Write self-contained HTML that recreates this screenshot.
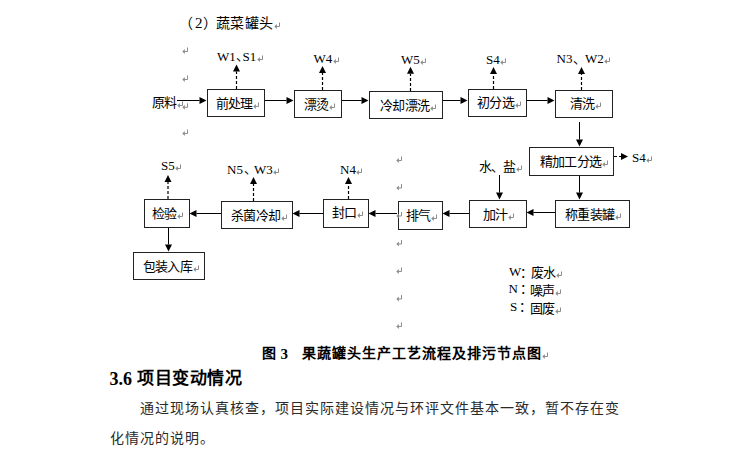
<!DOCTYPE html>
<html lang="zh-CN"><head><meta charset="utf-8"><style>
html,body{margin:0;padding:0;background:#fff;}
#pg{position:relative;width:741px;height:463px;overflow:hidden;background:#fff;font-family:"Liberation Serif",serif;color:#000;}
.b{position:absolute;box-sizing:border-box;border:1px solid #222;background:#fff;}
.t{position:absolute;white-space:nowrap;line-height:1;}
.cj{font-family:"Liberation Sans",sans-serif;font-size:13px;letter-spacing:-0.6px;}
.cjh{font-family:"Liberation Sans",sans-serif;font-size:14px;letter-spacing:0.5px;}
.lt{font-family:"Liberation Serif",serif;font-size:13px;}
.h2{font-family:"Liberation Serif",serif;font-size:15px;}
.cap{font-family:"Liberation Serif",serif;font-size:15px;font-weight:bold;}
.capc{font-family:"Liberation Serif",serif;font-size:14px;font-weight:bold;letter-spacing:1px;}
.hd{font-family:"Liberation Serif",serif;font-size:18px;font-weight:bold;}
.hdc{font-family:"Liberation Serif",serif;font-size:17px;font-weight:bold;letter-spacing:0.5px;}
.bd{font-family:"Liberation Serif",serif;font-size:14px;letter-spacing:1px;color:#2a2a2a;}
.bd1{font-family:"Liberation Serif",serif;font-size:14px;letter-spacing:1px;color:#2a2a2a;}
.pm{display:inline-block;vertical-align:-1px;margin-left:0.5px;}
svg.ov{position:absolute;left:0;top:0;}
</style></head><body><div id="pg">
<div class="b" style="left:207px;top:89px;width:58px;height:28px"></div>
<div class="b" style="left:294px;top:90px;width:48px;height:28px"></div>
<div class="b" style="left:369px;top:91px;width:74px;height:28px"></div>
<div class="b" style="left:468px;top:89px;width:59px;height:28px"></div>
<div class="b" style="left:555px;top:90px;width:58px;height:28px"></div>
<div class="b" style="left:529px;top:147px;width:85px;height:29px"></div>
<div class="b" style="left:555px;top:200px;width:75px;height:28px"></div>
<div class="b" style="left:469px;top:200px;width:58px;height:28px"></div>
<div class="b" style="left:398px;top:201px;width:45px;height:29px"></div>
<div class="b" style="left:323px;top:199px;width:46px;height:29px"></div>
<div class="b" style="left:221px;top:201px;width:72px;height:28px"></div>
<div class="b" style="left:144px;top:199px;width:46px;height:29px"></div>
<div class="b" style="left:133px;top:252px;width:72px;height:28px"></div>
<svg class="ov" width="741" height="463" viewBox="0 0 741 463"><line x1="177" y1="100.5" x2="199.50" y2="100.50" stroke="#000" stroke-width="1"/><polygon points="206.5,100.5 199.50,104.00 199.50,97.00" fill="#000"/><line x1="265" y1="100.5" x2="286.50" y2="100.50" stroke="#000" stroke-width="1"/><polygon points="293.5,100.5 286.50,104.00 286.50,97.00" fill="#000"/><line x1="342" y1="100.5" x2="361.50" y2="100.50" stroke="#000" stroke-width="1"/><polygon points="368.5,100.5 361.50,104.00 361.50,97.00" fill="#000"/><line x1="443" y1="100.5" x2="460.50" y2="100.50" stroke="#000" stroke-width="1"/><polygon points="467.5,100.5 460.50,104.00 460.50,97.00" fill="#000"/><line x1="527" y1="100.5" x2="547.50" y2="100.50" stroke="#000" stroke-width="1"/><polygon points="554.5,100.5 547.50,104.00 547.50,97.00" fill="#000"/><line x1="579.5" y1="122" x2="579.50" y2="139.50" stroke="#000" stroke-width="1"/><polygon points="579.5,146.5 576.00,139.50 583.00,139.50" fill="#000"/><line x1="579.5" y1="176" x2="579.50" y2="192.50" stroke="#000" stroke-width="1"/><polygon points="579.5,199.5 576.00,192.50 583.00,192.50" fill="#000"/><line x1="555" y1="212.5" x2="533.50" y2="212.50" stroke="#000" stroke-width="1"/><polygon points="526.5,212.5 533.50,209.00 533.50,216.00" fill="#000"/><line x1="499.5" y1="175" x2="499.50" y2="192.50" stroke="#000" stroke-width="1"/><polygon points="499.5,199.5 496.00,192.50 503.00,192.50" fill="#000"/><line x1="469" y1="213.5" x2="449.50" y2="213.50" stroke="#000" stroke-width="1"/><polygon points="442.5,213.5 449.50,210.00 449.50,217.00" fill="#000"/><line x1="397" y1="213.5" x2="375.50" y2="213.50" stroke="#000" stroke-width="1"/><polygon points="368.5,213.5 375.50,210.00 375.50,217.00" fill="#000"/><line x1="323" y1="213.5" x2="299.50" y2="213.50" stroke="#000" stroke-width="1"/><polygon points="292.5,213.5 299.50,210.00 299.50,217.00" fill="#000"/><line x1="221" y1="213.5" x2="196.50" y2="213.50" stroke="#000" stroke-width="1"/><polygon points="189.5,213.5 196.50,210.00 196.50,217.00" fill="#000"/><line x1="168.5" y1="228" x2="168.50" y2="244.50" stroke="#000" stroke-width="1"/><polygon points="168.5,251.5 165.00,244.50 172.00,244.50" fill="#000"/><line x1="236.5" y1="89" x2="236.50" y2="71.50" stroke="#000" stroke-width="1.2" stroke-dasharray="3,2"/><polygon points="236.5,64.5 240.00,71.50 233.00,71.50" fill="#000"/><line x1="322.5" y1="90" x2="322.50" y2="73.00" stroke="#000" stroke-width="1.2" stroke-dasharray="3,2"/><polygon points="322.5,66 326.00,73.00 319.00,73.00" fill="#000"/><line x1="410.5" y1="91" x2="410.50" y2="73.80" stroke="#000" stroke-width="1.2" stroke-dasharray="3,2"/><polygon points="410.5,66.8 414.00,73.80 407.00,73.80" fill="#000"/><line x1="493.5" y1="89" x2="493.50" y2="74.00" stroke="#000" stroke-width="1.2" stroke-dasharray="3,2"/><polygon points="493.5,67 497.00,74.00 490.00,74.00" fill="#000"/><line x1="581.5" y1="90" x2="581.50" y2="74.00" stroke="#000" stroke-width="1.2" stroke-dasharray="3,2"/><polygon points="581.5,67 585.00,74.00 578.00,74.00" fill="#000"/><line x1="614" y1="156.5" x2="621.00" y2="156.50" stroke="#000" stroke-width="1.2" stroke-dasharray="3,2"/><polygon points="628,156.5 621.00,160.00 621.00,153.00" fill="#000"/><line x1="253.5" y1="201" x2="253.50" y2="184.00" stroke="#000" stroke-width="1.2" stroke-dasharray="3,2"/><polygon points="253.5,177 257.00,184.00 250.00,184.00" fill="#000"/><line x1="348.5" y1="199" x2="348.50" y2="184.00" stroke="#000" stroke-width="1.2" stroke-dasharray="3,2"/><polygon points="348.5,177 352.00,184.00 345.00,184.00" fill="#000"/><line x1="168" y1="199" x2="168.00" y2="182.00" stroke="#000" stroke-width="1.2" stroke-dasharray="3,2"/><polygon points="168,175 171.50,182.00 164.50,182.00" fill="#000"/><path d="M187.5 47.5 V51.5 H184" fill="none" stroke="#8c8c8c" stroke-width="1"/><path d="M182.3 51.5L184.8 49.0V54.0Z" fill="#8c8c8c"/><path d="M187.5 75.5 V79.5 H184" fill="none" stroke="#8c8c8c" stroke-width="1"/><path d="M182.3 79.5L184.8 77.0V82.0Z" fill="#8c8c8c"/><path d="M187.5 103.3 V107.3 H184" fill="none" stroke="#8c8c8c" stroke-width="1"/><path d="M182.3 107.3L184.8 104.8V109.8Z" fill="#8c8c8c"/><path d="M187.5 129.5 V133.5 H184" fill="none" stroke="#8c8c8c" stroke-width="1"/><path d="M182.3 133.5L184.8 131.0V136.0Z" fill="#8c8c8c"/><path d="M401.5 156.5 V160.5 H398" fill="none" stroke="#8c8c8c" stroke-width="1"/><path d="M396.3 160.5L398.8 158.0V163.0Z" fill="#8c8c8c"/><path d="M401.5 184 V188 H398" fill="none" stroke="#8c8c8c" stroke-width="1"/><path d="M396.3 188L398.8 185.5V190.5Z" fill="#8c8c8c"/><path d="M401.5 212 V216 H398" fill="none" stroke="#8c8c8c" stroke-width="1"/><path d="M396.3 216L398.8 213.5V218.5Z" fill="#8c8c8c"/><path d="M401.5 240 V244 H398" fill="none" stroke="#8c8c8c" stroke-width="1"/><path d="M396.3 244L398.8 241.5V246.5Z" fill="#8c8c8c"/><path d="M401.5 267.5 V271.5 H398" fill="none" stroke="#8c8c8c" stroke-width="1"/><path d="M396.3 271.5L398.8 269.0V274.0Z" fill="#8c8c8c"/><path d="M401.5 295 V299 H398" fill="none" stroke="#8c8c8c" stroke-width="1"/><path d="M396.3 299L398.8 296.5V301.5Z" fill="#8c8c8c"/><path d="M401.5 322.5 V326.5 H398" fill="none" stroke="#8c8c8c" stroke-width="1"/><path d="M396.3 326.5L398.8 324.0V329.0Z" fill="#8c8c8c"/></svg>
<div class="t cjh" id="t0" style="left:179.00px;top:15.75px">（</div>
<div class="t h2" id="t1" style="left:195.00px;top:16.00px">2</div>
<div class="t cjh" id="t2" style="left:203.00px;top:15.75px">）</div>
<div class="t cjh" id="t3" style="left:215.50px;top:15.75px">蔬菜罐头<svg class="pm" width="7" height="7" viewBox="0 0 7 7"><path d="M5.5 0.5V4.5H2" fill="none" stroke="#8c8c8c" stroke-width="1"/><path d="M0.3 4.5L2.8 2V7Z" fill="#8c8c8c"/></svg></div>
<div class="t cj" id="t4" style="left:151.50px;top:96.25px">原料<svg class="pm" width="7" height="7" viewBox="0 0 7 7"><path d="M5.5 0.5V4.5H2" fill="none" stroke="#8c8c8c" stroke-width="1"/><path d="M0.3 4.5L2.8 2V7Z" fill="#8c8c8c"/></svg></div>
<div class="t cj" id="t5" style="left:215.50px;top:96.50px">前处理<svg class="pm" width="7" height="7" viewBox="0 0 7 7"><path d="M5.5 0.5V4.5H2" fill="none" stroke="#8c8c8c" stroke-width="1"/><path d="M0.3 4.5L2.8 2V7Z" fill="#8c8c8c"/></svg></div>
<div class="t cj" id="t6" style="left:303.50px;top:97.75px">漂烫<svg class="pm" width="7" height="7" viewBox="0 0 7 7"><path d="M5.5 0.5V4.5H2" fill="none" stroke="#8c8c8c" stroke-width="1"/><path d="M0.3 4.5L2.8 2V7Z" fill="#8c8c8c"/></svg></div>
<div class="t cj" id="t7" style="left:380.00px;top:98.75px">冷却漂洗<svg class="pm" width="7" height="7" viewBox="0 0 7 7"><path d="M5.5 0.5V4.5H2" fill="none" stroke="#8c8c8c" stroke-width="1"/><path d="M0.3 4.5L2.8 2V7Z" fill="#8c8c8c"/></svg></div>
<div class="t cj" id="t8" style="left:477.00px;top:95.75px">初分选<svg class="pm" width="7" height="7" viewBox="0 0 7 7"><path d="M5.5 0.5V4.5H2" fill="none" stroke="#8c8c8c" stroke-width="1"/><path d="M0.3 4.5L2.8 2V7Z" fill="#8c8c8c"/></svg></div>
<div class="t cj" id="t9" style="left:570.00px;top:96.50px">清洗<svg class="pm" width="7" height="7" viewBox="0 0 7 7"><path d="M5.5 0.5V4.5H2" fill="none" stroke="#8c8c8c" stroke-width="1"/><path d="M0.3 4.5L2.8 2V7Z" fill="#8c8c8c"/></svg></div>
<div class="t cj" id="t10" style="left:539.50px;top:154.50px">精加工分选<svg class="pm" width="7" height="7" viewBox="0 0 7 7"><path d="M5.5 0.5V4.5H2" fill="none" stroke="#8c8c8c" stroke-width="1"/><path d="M0.3 4.5L2.8 2V7Z" fill="#8c8c8c"/></svg></div>
<div class="t cj" id="t11" style="left:565.00px;top:207.50px">称重装罐<svg class="pm" width="7" height="7" viewBox="0 0 7 7"><path d="M5.5 0.5V4.5H2" fill="none" stroke="#8c8c8c" stroke-width="1"/><path d="M0.3 4.5L2.8 2V7Z" fill="#8c8c8c"/></svg></div>
<div class="t cj" id="t12" style="left:482.50px;top:207.50px">加汁<svg class="pm" width="7" height="7" viewBox="0 0 7 7"><path d="M5.5 0.5V4.5H2" fill="none" stroke="#8c8c8c" stroke-width="1"/><path d="M0.3 4.5L2.8 2V7Z" fill="#8c8c8c"/></svg></div>
<div class="t cj" id="t13" style="left:406.00px;top:208.75px">排气<svg class="pm" width="7" height="7" viewBox="0 0 7 7"><path d="M5.5 0.5V4.5H2" fill="none" stroke="#8c8c8c" stroke-width="1"/><path d="M0.3 4.5L2.8 2V7Z" fill="#8c8c8c"/></svg></div>
<div class="t cj" id="t14" style="left:332.00px;top:206.25px">封口<svg class="pm" width="7" height="7" viewBox="0 0 7 7"><path d="M5.5 0.5V4.5H2" fill="none" stroke="#8c8c8c" stroke-width="1"/><path d="M0.3 4.5L2.8 2V7Z" fill="#8c8c8c"/></svg></div>
<div class="t cj" id="t15" style="left:231.00px;top:208.50px">杀菌冷却<svg class="pm" width="7" height="7" viewBox="0 0 7 7"><path d="M5.5 0.5V4.5H2" fill="none" stroke="#8c8c8c" stroke-width="1"/><path d="M0.3 4.5L2.8 2V7Z" fill="#8c8c8c"/></svg></div>
<div class="t cj" id="t16" style="left:152.00px;top:207.00px">检验<svg class="pm" width="7" height="7" viewBox="0 0 7 7"><path d="M5.5 0.5V4.5H2" fill="none" stroke="#8c8c8c" stroke-width="1"/><path d="M0.3 4.5L2.8 2V7Z" fill="#8c8c8c"/></svg></div>
<div class="t cj" id="t17" style="left:142.50px;top:259.75px">包装入库<svg class="pm" width="7" height="7" viewBox="0 0 7 7"><path d="M5.5 0.5V4.5H2" fill="none" stroke="#8c8c8c" stroke-width="1"/><path d="M0.3 4.5L2.8 2V7Z" fill="#8c8c8c"/></svg></div>
<div class="t cj" id="t18" style="left:478.50px;top:160.00px">水、盐<svg class="pm" width="7" height="7" viewBox="0 0 7 7"><path d="M5.5 0.5V4.5H2" fill="none" stroke="#8c8c8c" stroke-width="1"/><path d="M0.3 4.5L2.8 2V7Z" fill="#8c8c8c"/></svg></div>
<div class="t lt" id="t19" style="left:217.00px;top:49.50px">W1</div>
<div class="t cj" id="t20" style="left:235.50px;top:49.00px">、</div>
<div class="t lt" id="t21" style="left:242.50px;top:49.50px">S1<svg class="pm" width="7" height="7" viewBox="0 0 7 7"><path d="M5.5 0.5V4.5H2" fill="none" stroke="#8c8c8c" stroke-width="1"/><path d="M0.3 4.5L2.8 2V7Z" fill="#8c8c8c"/></svg></div>
<div class="t lt" id="t22" style="left:313.50px;top:51.50px">W4<svg class="pm" width="7" height="7" viewBox="0 0 7 7"><path d="M5.5 0.5V4.5H2" fill="none" stroke="#8c8c8c" stroke-width="1"/><path d="M0.3 4.5L2.8 2V7Z" fill="#8c8c8c"/></svg></div>
<div class="t lt" id="t23" style="left:401.00px;top:52.50px">W5<svg class="pm" width="7" height="7" viewBox="0 0 7 7"><path d="M5.5 0.5V4.5H2" fill="none" stroke="#8c8c8c" stroke-width="1"/><path d="M0.3 4.5L2.8 2V7Z" fill="#8c8c8c"/></svg></div>
<div class="t lt" id="t24" style="left:486.00px;top:52.50px">S4<svg class="pm" width="7" height="7" viewBox="0 0 7 7"><path d="M5.5 0.5V4.5H2" fill="none" stroke="#8c8c8c" stroke-width="1"/><path d="M0.3 4.5L2.8 2V7Z" fill="#8c8c8c"/></svg></div>
<div class="t lt" id="t25" style="left:556.50px;top:51.50px">N3</div>
<div class="t cj" id="t26" style="left:573.00px;top:51.50px">、</div>
<div class="t lt" id="t27" style="left:585.00px;top:51.50px">W2<svg class="pm" width="7" height="7" viewBox="0 0 7 7"><path d="M5.5 0.5V4.5H2" fill="none" stroke="#8c8c8c" stroke-width="1"/><path d="M0.3 4.5L2.8 2V7Z" fill="#8c8c8c"/></svg></div>
<div class="t lt" id="t28" style="left:632.00px;top:150.50px">S4<svg class="pm" width="7" height="7" viewBox="0 0 7 7"><path d="M5.5 0.5V4.5H2" fill="none" stroke="#8c8c8c" stroke-width="1"/><path d="M0.3 4.5L2.8 2V7Z" fill="#8c8c8c"/></svg></div>
<div class="t lt" id="t29" style="left:227.00px;top:162.50px">N5</div>
<div class="t cj" id="t30" style="left:243.50px;top:162.00px">、</div>
<div class="t lt" id="t31" style="left:254.00px;top:162.50px">W3<svg class="pm" width="7" height="7" viewBox="0 0 7 7"><path d="M5.5 0.5V4.5H2" fill="none" stroke="#8c8c8c" stroke-width="1"/><path d="M0.3 4.5L2.8 2V7Z" fill="#8c8c8c"/></svg></div>
<div class="t lt" id="t32" style="left:340.00px;top:162.50px">N4<svg class="pm" width="7" height="7" viewBox="0 0 7 7"><path d="M5.5 0.5V4.5H2" fill="none" stroke="#8c8c8c" stroke-width="1"/><path d="M0.3 4.5L2.8 2V7Z" fill="#8c8c8c"/></svg></div>
<div class="t lt" id="t33" style="left:161.00px;top:159.00px">S5<svg class="pm" width="7" height="7" viewBox="0 0 7 7"><path d="M5.5 0.5V4.5H2" fill="none" stroke="#8c8c8c" stroke-width="1"/><path d="M0.3 4.5L2.8 2V7Z" fill="#8c8c8c"/></svg></div>
<div class="t lt" id="t34" style="left:509.00px;top:264.50px">W</div>
<div class="t cj" id="t35" style="left:519.50px;top:265.90px">：</div>
<div class="t cj" id="t36" style="left:530.50px;top:265.75px">废水<svg class="pm" width="7" height="7" viewBox="0 0 7 7"><path d="M5.5 0.5V4.5H2" fill="none" stroke="#8c8c8c" stroke-width="1"/><path d="M0.3 4.5L2.8 2V7Z" fill="#8c8c8c"/></svg></div>
<div class="t lt" id="t37" style="left:508.50px;top:281.50px">N</div>
<div class="t cj" id="t38" style="left:519.50px;top:282.30px">：</div>
<div class="t cj" id="t39" style="left:529.50px;top:283.75px">噪声<svg class="pm" width="7" height="7" viewBox="0 0 7 7"><path d="M5.5 0.5V4.5H2" fill="none" stroke="#8c8c8c" stroke-width="1"/><path d="M0.3 4.5L2.8 2V7Z" fill="#8c8c8c"/></svg></div>
<div class="t lt" id="t40" style="left:510.00px;top:299.50px">S</div>
<div class="t cj" id="t41" style="left:518.50px;top:300.20px">：</div>
<div class="t cj" id="t42" style="left:530.00px;top:301.50px">固废<svg class="pm" width="7" height="7" viewBox="0 0 7 7"><path d="M5.5 0.5V4.5H2" fill="none" stroke="#8c8c8c" stroke-width="1"/><path d="M0.3 4.5L2.8 2V7Z" fill="#8c8c8c"/></svg></div>
<div class="t capc" id="t43" style="left:262.00px;top:346.75px">图</div>
<div class="t cap" id="t44" style="left:280.50px;top:346.50px">3</div>
<div class="t capc" id="t45" style="left:301.50px;top:346.75px">果蔬罐头生产工艺流程及排污节点图<svg class="pm" width="7" height="7" viewBox="0 0 7 7"><path d="M5.5 0.5V4.5H2" fill="none" stroke="#8c8c8c" stroke-width="1"/><path d="M0.3 4.5L2.8 2V7Z" fill="#8c8c8c"/></svg></div>
<div class="t hd" id="t46" style="left:109.50px;top:369.50px">3.6</div>
<div class="t hdc" id="t47" style="left:137.00px;top:370.00px">项目变动情况</div>
<div class="t bd1" id="t48" style="left:139.50px;top:402.25px">通过现场认真核查，项目实际建设情况与环评文件基本一致，暂不存在变</div>
<div class="t bd" id="t49" style="left:110.00px;top:432.00px">化情况的说明。</div>
</div></body></html>
